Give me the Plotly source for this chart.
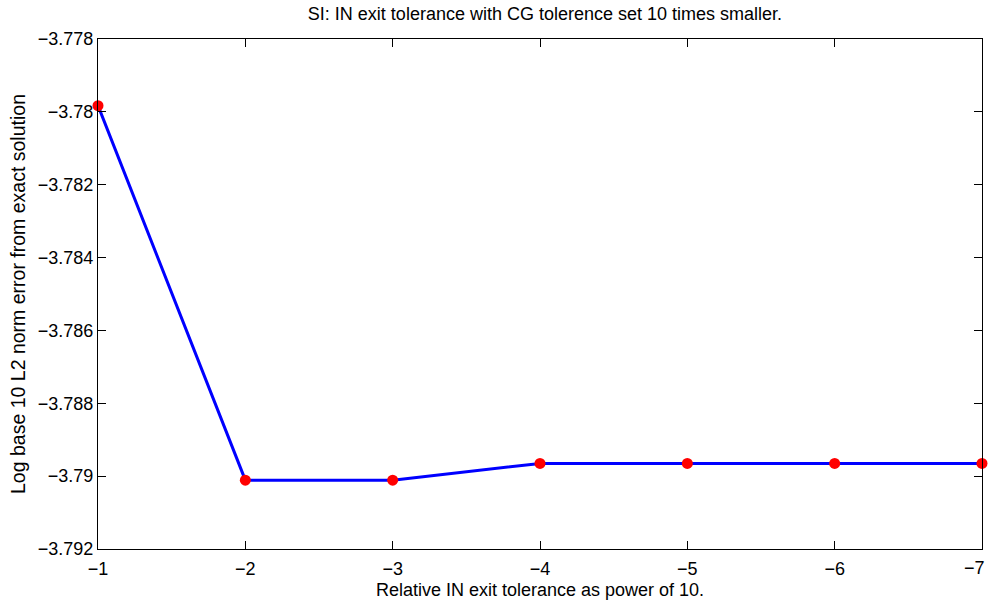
import plotly.graph_objects as go

tolerance_power = [-1, -2, -3, -4, -5, -6, -7]
log_error = [-3.77983, -3.79011, -3.79011, -3.78965, -3.78965, -3.78965, -3.78965]

y_tick_vals = [-3.778, -3.78, -3.782, -3.784, -3.786, -3.788, -3.79, -3.792]
y_tick_text = ["\u22123.778", "\u22123.78", "\u22123.782", "\u22123.784", "\u22123.786", "\u22123.788", "\u22123.79", "\u22123.792"]
x_tick_vals = [-1, -2, -3, -4, -5, -6, -7]
x_tick_text = ["\u22121", "\u22122", "\u22123", "\u22124", "\u22125", "\u22126", "\u22127"]

font = "Liberation Sans, Arial, Helvetica, sans-serif"

fig = go.Figure()
fig.add_trace(go.Scatter(
    x=tolerance_power, y=log_error, mode="lines+markers",
    line=dict(color="#0000ff", width=3),
    marker=dict(color="#ff0000", size=11, line=dict(width=0)),
    cliponaxis=False, showlegend=False,
))

axis_common = dict(
    showline=True, linecolor="black", linewidth=1.3, mirror="allticks",
    ticks="inside", ticklen=8, tickcolor="black", tickwidth=1,
    showgrid=False, zeroline=False, automargin=False,
    ticklabeloverflow="allow",
    tickfont=dict(family=font, size=18, color="black"),
)

# last x tick label is drawn as an annotation anchored at its tick, right-aligned so it stays in the page
shown_x_text = x_tick_text[:-1] + [""]

fig.update_layout(
    width=989, height=601,
    margin=dict(l=98, r=7, t=39, b=52),
    paper_bgcolor="white", plot_bgcolor="white",
    font=dict(family=font, color="black"),
    title=dict(text="SI: IN exit tolerance with CG tolerence set 10 times smaller.",
               x=0.551, xanchor="center", y=0.978, yanchor="middle",
               font=dict(family=font, size=18, color="black")),
    xaxis=dict(range=[-1, -7], tickvals=x_tick_vals, ticktext=shown_x_text,
               ticklabelstandoff=3,
               title=dict(text="Relative IN exit tolerance as power of 10.",
                          font=dict(family=font, size=18), standoff=5),
               **axis_common),
    yaxis=dict(range=[-3.792, -3.778], tickvals=y_tick_vals, ticktext=y_tick_text,
               title=dict(text="Log base 10 L2 norm error from exact solution",
                          font=dict(family=font, size=19.5), standoff=6),
               **axis_common),
    annotations=[dict(
        x=x_tick_vals[-1], xref="x", y=0, yref="paper",
        text=x_tick_text[-1], showarrow=False,
        xanchor="right", yanchor="middle", xshift=5, yshift=-19,
        font=dict(family=font, size=18, color="black"),
    )],
)

fig.write_html("out.html")
